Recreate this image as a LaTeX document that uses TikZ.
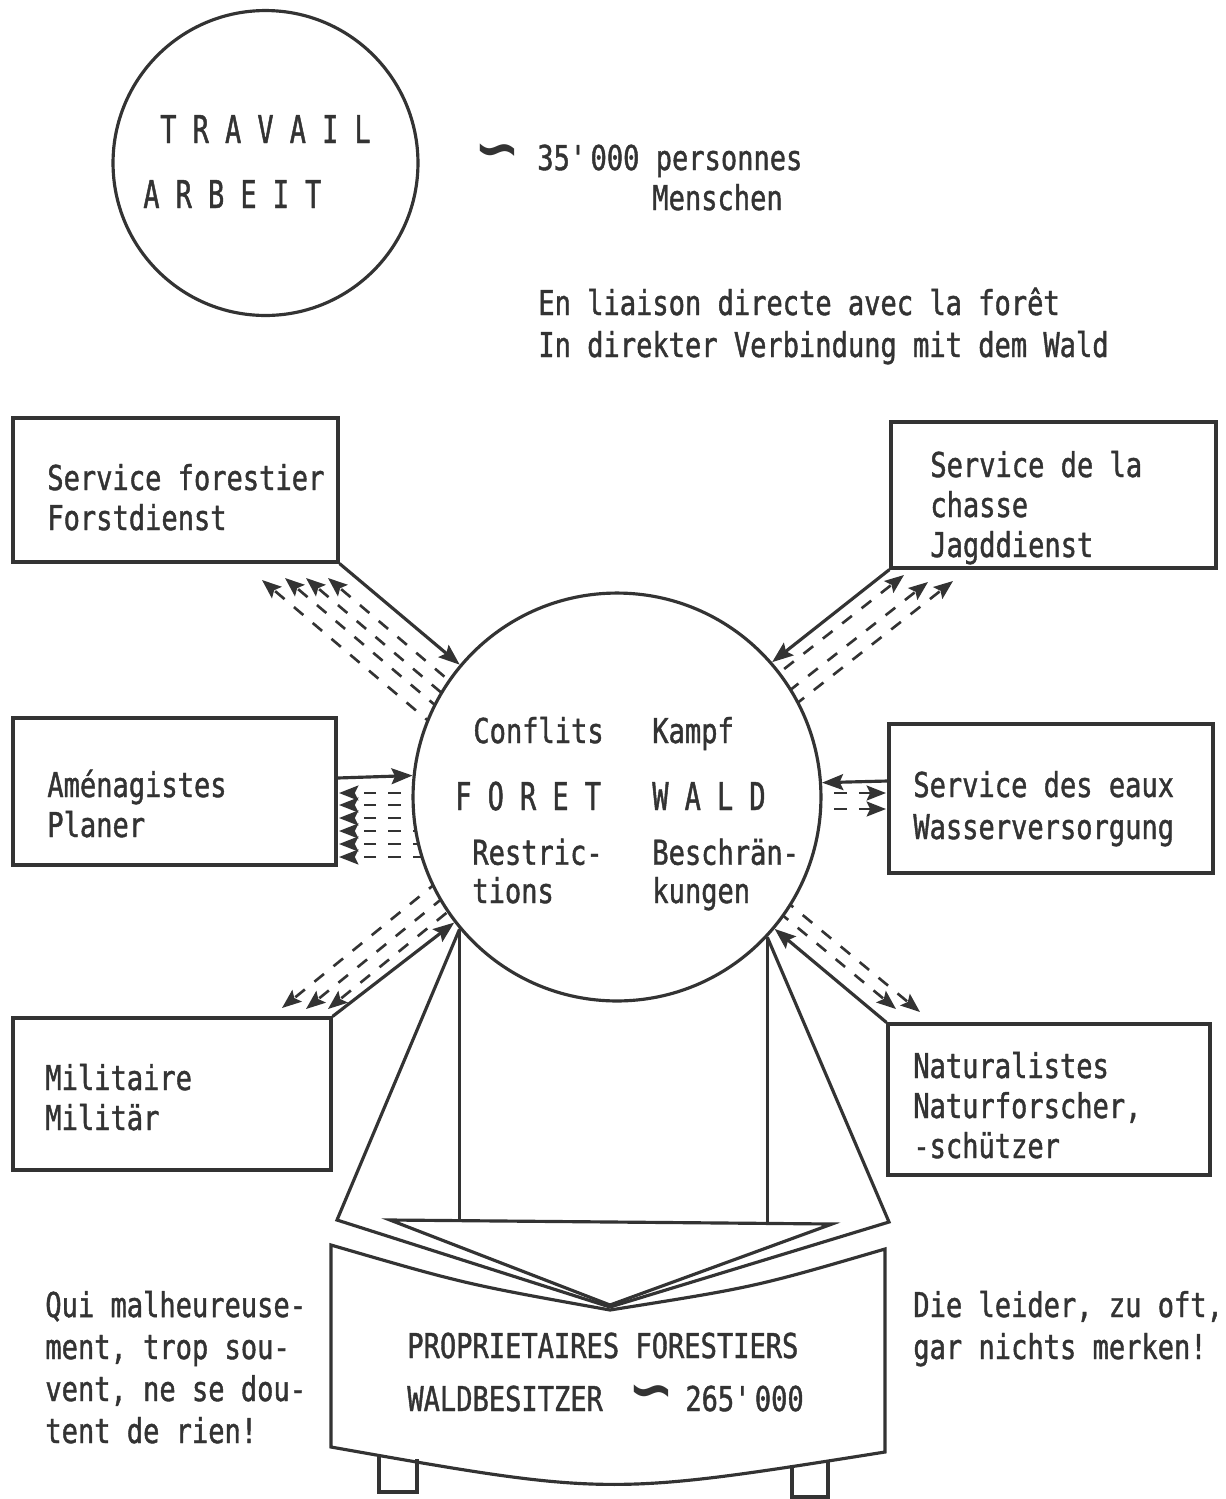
\documentclass[tikz,border=0pt]{standalone}
\usepackage{fontspec}
\usetikzlibrary{arrows.meta,calc}
\newfontfamily\lett[FakeStretch=0.79,FakeBold=1.2]{DejaVu Sans Mono}
\newfontfamily\lettb[FakeStretch=0.70,FakeBold=1.2]{DejaVu Sans Mono}
\newfontfamily\symf{DejaVu Sans}
\definecolor{ink}{gray}{0.2}
\newcommand{\swung}{\scalebox{1.6}[1.8]{∽}}
\tikzset{
  ln/.style={line width=1.8pt, draw=ink},
  box/.style={ln, rectangle, inner sep=0pt},
  circ/.style={ln, circle, inner sep=0pt},
  lbl/.style={font=\lett\fontsize{19.5pt}{22.76pt}\selectfont, text=ink, inner sep=0pt, align=left, anchor=base west},
  lblw/.style={font=\lett\fontsize{19.5pt}{23.9pt}\selectfont, text=ink, inner sep=0pt, align=left, anchor=base west},
  lbln/.style={font=\lett\fontsize{19.5pt}{21.8pt}\selectfont, text=ink, inner sep=0pt, align=left, anchor=base west},
  big/.style={font=\lettb\fontsize{21.85pt}{24pt}\selectfont, text=ink, inner sep=0pt, anchor=base west},
  tld/.style={font=\symf\bfseries\fontsize{19.5pt}{22pt}\selectfont, text=ink, inner sep=0pt},
  solidar/.style={ln, -{Stealth[length=12pt,width=9pt,inset=2pt]}},
  dashar/.style={ln, line width=1.5pt, dash pattern=on 7pt off 7pt, -{Stealth[length=11pt,width=8.5pt,inset=2pt]}},
}
\begin{document}
\begin{tikzpicture}[x=0.02cm,y=-0.02cm]
\useasboundingbox (0,0) rectangle (1225,1499);

% ---- top: travail ----
\node[circ, minimum size=6.1cm] (travail) at (265.5,163) {};
\node[big] (tr1) at (160,143) {T R A V A I L};
\node[big] (tr2) at (143,208) {A R B E I T};
\node[tld] (tld1) at (497,157) {\swung};
\node[lbl] (n35) at (537,170) {35\textquotesingle000 personnes};
\node[lbl] (nmen) at (652,210) {Menschen};
\node[lblw] (liai) at (538,357) {En liaison directe avec la forêt\\In direkter Verbindung mit dem Wald};

% ---- boxes ----
\node[box, minimum width=6.5cm,  minimum height=2.88cm] (sf) at (175.5,490) {};
\node[box, minimum width=6.5cm,  minimum height=2.92cm] (ch) at (1053.5,495) {};
\node[box, minimum width=6.46cm, minimum height=2.94cm] (am) at (174.5,791.5) {};
\node[box, minimum width=6.48cm, minimum height=2.98cm] (ea) at (1051,798.5) {};
\node[box, minimum width=6.36cm, minimum height=3.04cm] (mi) at (172,1094) {};
\node[box, minimum width=6.44cm, minimum height=3.02cm] (na) at (1049,1099.5) {};

% (base anchor of a multi-line node = baseline of its last line)
\node[lbl] (sft) at (47,530) {Service forestier\\Forstdienst};
\node[lbl] (cht) at (930,557) {Service de la\\chasse\\Jagddienst};
\node[lbl] (amt) at (47,837) {Aménagistes\\Planer};
\node[lblw] (eat) at (913,839) {Service des eaux\\Wasserversorgung};
\node[lbl] (mit) at (45,1130) {Militaire\\Militär};
\node[lbl] (nat) at (913,1158) {Naturalistes\\Naturforscher,\\-schützer};

% ---- dashed arrows (drawn before the forest circle) ----
\coordinate (tl1) at (262,580);
\coordinate (tl2) at (285,578);
\coordinate (tl3) at (306,578);
\coordinate (tl4) at (328,578);
\foreach \p in {tl1,tl2,tl3,tl4} \draw[dashar] ($(\p)+(229,194)$) -- (\p);

\coordinate (tr1h) at (904,575);
\coordinate (tr2h) at (928,582);
\coordinate (tr3h) at (953,581);
\foreach \p in {tr1h,tr2h,tr3h} \draw[dashar] ($(\p)+(-236,185)$) -- (\p);

\coordinate (am1) at (339,793);
\coordinate (am2) at (339,805);
\coordinate (am3) at (339,818);
\coordinate (am4) at (339,831);
\coordinate (am5) at (339,844);
\coordinate (am6) at (339,857);
\foreach \p in {am1,am2,am3,am4,am5,am6} \draw[dashar] ($(\p)+(160,0)$) -- (\p);

\coordinate (ea1) at (886,793);
\coordinate (ea2) at (886,809);
\foreach \p in {ea1,ea2} \draw[dashar] ($(\p)+(-150,0)$) -- (\p);

\coordinate (bl1) at (282,1008);
\coordinate (bl2) at (306,1009);
\coordinate (bl3) at (328,1009);
\foreach \p in {bl1,bl2,bl3} \draw[dashar] ($(\p)+(233,-189)$) -- (\p);

\coordinate (br1) at (896,1009);
\coordinate (br2) at (920,1012);
\foreach \p in {br1,br2} \draw[dashar] ($(\p)+(-231,-191)$) -- (\p);

% ---- forest circle ----
\node[circ, fill=white, minimum size=8.16cm] (foret) at (617,797) {};
\node[lbl] (cf) at (473,743) {Conflits};
\node[lbl] (kp) at (652,743) {Kampf};
\node[big] (fo) at (455,810) {F O R E T};
\node[big] (wa) at (652,810) {W A L D};
\node[lbln] (re) at (472,903) {Restric-\\tions};
\node[lbln] (be) at (652,903) {Beschrän-\\kungen};

% ---- solid arrows ----
\draw[solidar] (sf.south east) -- (foret);
\draw[solidar] (ch.south west) -- (foret.41);
\draw[solidar] (am.east |- 0,778) -- (foret.174.66);
\draw[solidar] (ea.west |- 0,781) -- (foret.4.5);
\draw[solidar] (mi.north east) -- (foret);
\draw[solidar] (na.north west) -- (foret);

% ---- owners (bench / book) ----
\draw[ln] (foret.220) -- (foret.220 |- 0,1221);
\draw[ln] (foret.317) -- (foret.317 |- 0,1223);
\draw[ln, line join=miter] (foret.220) -- (337,1220) -- (610,1307) -- (889,1222) -- (foret.317);
\draw[ln, line join=miter] (390,1220) -- (832,1224) -- (610,1305) -- cycle;
\draw[ln] (331,1245) .. controls (465,1284) .. (610,1310) .. controls (755,1287) .. (885,1249)
  -- (885,1452) .. controls (608,1496) .. (331,1447) -- cycle;
\draw[ln] (379,1455) -- (379,1492) -- (417,1492) -- (417,1459);
\draw[ln] (792,1465) -- (792,1497) -- (828,1497) -- (828,1462);

\node[lbl] (pf) at (407,1358) {PROPRIETAIRES FORESTIERS};
\node[lbl] (wb) at (407,1411) {WALDBESITZER};
\node[tld] (tld2) at (651,1398) {\swung};
\node[lbl] (n265) at (685,1411) {265\textquotesingle000};

\node[lblw] (qui) at (45,1443) {Qui malheureuse-\\ment, trop sou-\\vent, ne se dou-\\tent de rien!};
\node[lblw] (die) at (913,1359) {Die leider, zu oft,\\gar nichts merken!};
\end{tikzpicture}
\end{document}
